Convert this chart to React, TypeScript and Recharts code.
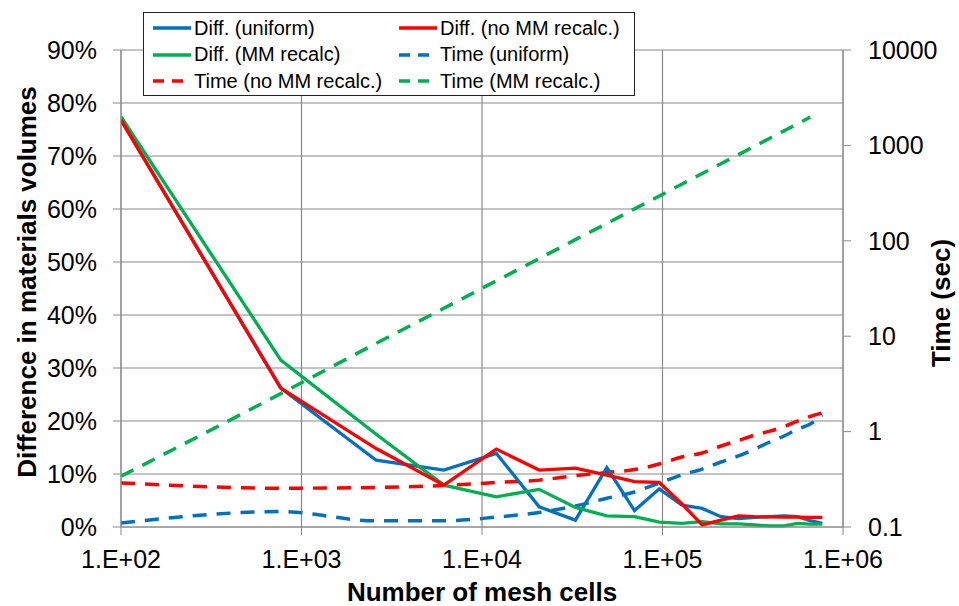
import React from "react";
import { LineChart, Line, XAxis, YAxis, CartesianGrid } from "recharts";

// Mesh sizes (number of cells) shared by every series
const cells = [
  100, 768, 2592, 6144, 12000, 20736, 32928, 49152, 69984, 96000, 127776,
  165888, 210912, 263424, 324000, 393216, 471648, 559872, 658464, 768000,
];

// Difference in materials volumes, %
const diffUniform = [
  76.8, 26.2, 12.6, 10.75, 13.9, 3.8, 1.3, 11.2, 3.1, 7.2, 4.15, 3.5, 1.95,
  1.6, 1.8, 1.95, 2.1, 1.95, 1.2, 0.7,
];
const diffNoRecalc = [
  76.8, 26.2, 14.8, 7.9, 14.7, 10.75, 11.1, 9.8, 8.55, 8.4, 4.4, 0.4, 1.3,
  2.1, 1.95, 1.9, 1.85, 1.85, 1.8, 1.8,
];
const diffRecalc = [
  77.4, 31.5, 17.5, 7.9, 5.7, 7.1, 3.7, 2.1, 1.95, 0.9, 0.7, 1.0, 0.6, 0.6,
  0.4, 0.2, 0.2, 0.7, 0.55, 0.55,
];

// Run time, seconds
const timeUniform = [
  0.11, 0.145, 0.116, 0.116, 0.127, 0.142, 0.166, 0.2, 0.233, 0.289, 0.351,
  0.405, 0.48, 0.555, 0.657, 0.778, 0.9, 1.06, 1.2, 1.49,
];
const timeNoRecalc = [
  0.29, 0.255, 0.26, 0.272, 0.293, 0.31, 0.345, 0.373, 0.4, 0.457, 0.542,
  0.597, 0.706, 0.807, 0.92, 1.01, 1.13, 1.29, 1.44, 1.57,
];
const timeRecalc: (number | null)[] = [
  0.34, 2.5, 8.4, 19.6, 38, 65, 103, 152, 216, 295, 392, 507, 643, 800, 980,
  1190, 1420, 1680, 1980, null,
];

const xTicks = [1e2, 1e3, 1e4, 1e5, 1e6];
const pctTicks = [0, 10, 20, 30, 40, 50, 60, 70, 80, 90];
const timeTicks = [0.1, 1, 10, 100, 1000, 10000];

const BLUE = "#0070C0";
const RED = "#FF0000";
const GREEN = "#00B050";
const GRID = "#8a8a8a";
const FONT = '"Liberation Sans", Arial, sans-serif';
const DASH = "14 10";

const data = cells.map((n, i) => ({
  cells: n,
  diffUniform: diffUniform[i],
  diffNoRecalc: diffNoRecalc[i],
  diffRecalc: diffRecalc[i],
  timeUniform: timeUniform[i],
  timeNoRecalc: timeNoRecalc[i],
  timeRecalc: timeRecalc[i],
}));

const legendItems = [
  { label: "Diff. (uniform)", color: BLUE, dashed: false },
  { label: "Diff. (no MM recalc.)", color: RED, dashed: false },
  { label: "Diff. (MM recalc)", color: GREEN, dashed: false },
  { label: "Time (uniform)", color: BLUE, dashed: true },
  { label: "Time (no MM recalc.)", color: RED, dashed: true },
  { label: "Time (MM recalc.)", color: GREEN, dashed: true },
];

const tickStyle = { fill: "#000", fontSize: 25, fontFamily: FONT };

const formatExp = (v: number) => `1.E+${String(Math.round(Math.log10(v))).padStart(2, "0")}`;

function ChartLegend() {
  return (
    <div
      style={{
        position: "absolute",
        left: 143,
        top: 12,
        width: 490,
        height: 82,
        border: "1px solid #222",
        background: "#fff",
        fontFamily: FONT,
        fontSize: 20,
        color: "#000",
      }}
    >
      {legendItems.map((item, i) => {
        const col = i % 2;
        const row = Math.floor(i / 2);
        return (
          <div
            key={item.label}
            style={{
              position: "absolute",
              left: col === 0 ? 9 : 255,
              top: 3 + row * 26.7,
              height: 24,
              display: "flex",
              alignItems: "center",
              whiteSpace: "nowrap",
            }}
          >
            <svg width={38} height={6} style={{ marginRight: 3 }}>
              <line
                x1={0}
                y1={3}
                x2={38}
                y2={3}
                stroke={item.color}
                strokeWidth={3.5}
                strokeDasharray={item.dashed ? "11 8" : undefined}
              />
            </svg>
            <span>{item.label}</span>
          </div>
        );
      })}
    </div>
  );
}

export default function App() {
  return (
    <div
      style={{
        position: "absolute",
        left: 0,
        top: 0,
        width: 959,
        height: 606,
        background: "#fff",
        overflow: "hidden",
      }}
    >
      <LineChart
        width={959}
        height={606}
        data={data}
        margin={{ top: 50, right: 0, bottom: 0, left: 0 }}
      >
        <CartesianGrid stroke={GRID} strokeWidth={1.2} yAxisId="pct" />
        <XAxis
          dataKey="cells"
          type="number"
          scale="log"
          domain={[1e2, 1e6]}
          ticks={xTicks}
          allowDataOverflow
          tickFormatter={formatExp}
          tick={tickStyle}
          stroke={GRID}
          tickSize={8}
          tickMargin={15}
          height={79}
        />
        <YAxis
          yAxisId="pct"
          type="number"
          domain={[0, 90]}
          ticks={pctTicks}
          tickFormatter={(v: number) => `${v}%`}
          tick={tickStyle}
          stroke={GRID}
          tickSize={8}
          tickMargin={16}
          width={121}
        />
        <YAxis
          yAxisId="time"
          orientation="right"
          type="number"
          scale="log"
          domain={[0.1, 10000]}
          ticks={timeTicks}
          allowDataOverflow
          tickFormatter={(v: number) => String(v)}
          tick={{ ...tickStyle, textAnchor: "start" }}
          stroke={GRID}
          tickSize={8}
          tickMargin={17}
          width={116}
        />
        <Line
          yAxisId="time"
          dataKey="timeUniform"
          type="monotone"
          stroke={BLUE}
          strokeWidth={3.5}
          strokeDasharray={DASH}
          dot={false}
          isAnimationActive={false}
        />
        <Line
          yAxisId="time"
          dataKey="timeNoRecalc"
          type="monotone"
          stroke={RED}
          strokeWidth={3.5}
          strokeDasharray={DASH}
          dot={false}
          isAnimationActive={false}
        />
        <Line
          yAxisId="time"
          dataKey="timeRecalc"
          type="monotone"
          stroke={GREEN}
          strokeWidth={3.5}
          strokeDasharray={DASH}
          dot={false}
          isAnimationActive={false}
        />
        <Line
          yAxisId="pct"
          dataKey="diffUniform"
          type="linear"
          stroke={BLUE}
          strokeWidth={3.3}
          dot={false}
          isAnimationActive={false}
        />
        <Line
          yAxisId="pct"
          dataKey="diffRecalc"
          type="linear"
          stroke={GREEN}
          strokeWidth={3.3}
          dot={false}
          isAnimationActive={false}
        />
        <Line
          yAxisId="pct"
          dataKey="diffNoRecalc"
          type="linear"
          stroke={RED}
          strokeWidth={3.3}
          dot={false}
          isAnimationActive={false}
        />
      </LineChart>

      {/* axis titles */}
      <div
        style={{
          position: "absolute",
          left: 0,
          top: 579,
          width: 964,
          textAlign: "center",
          fontFamily: FONT,
          fontWeight: "bold",
          fontSize: 26,
          lineHeight: "26px",
        }}
      >
        Number of mesh cells
      </div>
      <div
        style={{
          position: "absolute",
          left: 27,
          top: 282,
          transform: "translate(-50%, -50%) rotate(-90deg)",
          whiteSpace: "nowrap",
          fontFamily: FONT,
          fontWeight: "bold",
          fontSize: 26,
          lineHeight: "28px",
        }}
      >
        Difference in materials volumes
      </div>
      <div
        style={{
          position: "absolute",
          left: 941,
          top: 303,
          transform: "translate(-50%, -50%) rotate(-90deg)",
          whiteSpace: "nowrap",
          fontFamily: FONT,
          fontWeight: "bold",
          fontSize: 26,
          lineHeight: "28px",
        }}
      >
        Time (sec)
      </div>

      <ChartLegend />
    </div>
  );
}
